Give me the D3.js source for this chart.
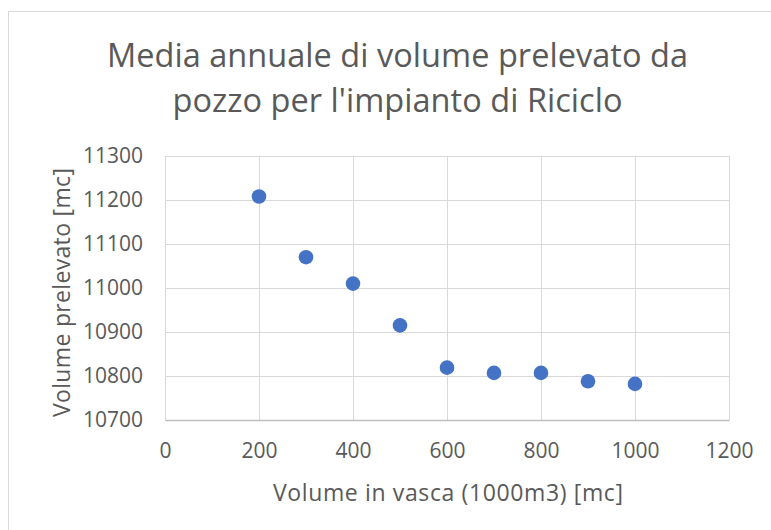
<!DOCTYPE html>
<html>
<head>
<meta charset="utf-8">
<script src="https://cdn.jsdelivr.net/npm/d3@7"></script>
<style>
  html, body { margin: 0; padding: 0; background: #ffffff; }
  svg text { font-family: "Open Sans", Lato, sans-serif; fill: #595959; }
</style>
</head>
<body>
<svg id="chart" width="771" height="530"></svg>
<script>
// Volume in vasca (1000 m3) and annual mean volume drawn from the well
const vascaVolumes = [200, 300, 400, 500, 600, 700, 800, 900, 1000];
const prelevatoVolumes = [11208, 11070, 11010, 10915, 10819, 10807, 10807, 10788, 10782];
const xTicks = [0, 200, 400, 600, 800, 1000, 1200];
const yTicks = [10700, 10800, 10900, 11000, 11100, 11200, 11300];
const titleLines = ["Media annuale di volume prelevato da", "pozzo per l'impianto di Riciclo"];
const xTitle = "Volume in vasca (1000m3) [mc]";
const yTitle = "Volume prelevato [mc]";

const svg = d3.select("#chart");
const plot = { left: 165, right: 729, top: 156, bottom: 420 };
const fontFamily = "'Open Sans', Lato, sans-serif";

const x = d3.scaleLinear().domain([0, 1200]).range([plot.left, plot.right]);
const y = d3.scaleLinear().domain([10700, 11300]).range([plot.bottom, plot.top]);

// chart area border
svg.append("rect")
  .attr("x", 8.5).attr("y", 11.5)
  .attr("width", 780).attr("height", 540)
  .attr("fill", "none").attr("stroke", "#d9d9d9").attr("stroke-width", 1);

// title, two centred lines
const titleWidths = [581, 450];
svg.append("g").selectAll("text")
  .data(titleLines)
  .join("text")
  .attr("x", 397.5)
  .attr("y", (d, i) => 67 + i * 45)
  .attr("text-anchor", "middle")
  .attr("font-size", 32.5)
  .attr("textLength", (d, i) => titleWidths[i])
  .attr("lengthAdjust", "spacing")
  .text(d => d);

// vertical gridlines
svg.append("g")
  .attr("transform", `translate(0,${plot.bottom})`)
  .call(d3.axisBottom(x).tickValues(xTicks).tickSize(-(plot.bottom - plot.top)).tickFormat(""))
  .call(g => g.select(".domain").remove())
  .call(g => g.selectAll(".tick line").attr("stroke", "#d9d9d9").attr("stroke-width", 1));

// horizontal gridlines
svg.append("g")
  .attr("transform", `translate(${plot.left},0)`)
  .call(d3.axisLeft(y).tickValues(yTicks).tickSize(-(plot.right - plot.left)).tickFormat(""))
  .call(g => g.select(".domain").remove())
  .call(g => g.selectAll(".tick line").attr("stroke", "#d9d9d9").attr("stroke-width", 1));

// bottom axis line and labels
const xAxis = svg.append("g")
  .attr("transform", `translate(0,${plot.bottom})`)
  .call(d3.axisBottom(x).tickValues(xTicks).tickSize(0).tickPadding(23).tickFormat(d3.format("d")));
xAxis.select(".domain").attr("stroke", "#bfbfbf").attr("stroke-width", 1.3);
xAxis.selectAll(".tick text").attr("font-size", 21).attr("fill", "#595959")
  .attr("font-family", fontFamily);

// left axis labels
const yAxis = svg.append("g")
  .attr("transform", `translate(${plot.left},0)`)
  .call(d3.axisLeft(y).tickValues(yTicks).tickSize(0).tickPadding(22).tickFormat(d3.format("d")));
yAxis.select(".domain").remove();
yAxis.selectAll(".tick text").attr("font-size", 21).attr("fill", "#595959")
  .attr("font-family", fontFamily);

// axis titles
svg.append("text")
  .attr("x", 448)
  .attr("y", 501)
  .attr("text-anchor", "middle")
  .attr("font-size", 23)
  .attr("textLength", 350)
  .attr("lengthAdjust", "spacing")
  .text(xTitle);

svg.append("text")
  .attr("transform", `translate(70,292.5) rotate(-90)`)
  .attr("text-anchor", "middle")
  .attr("font-size", 23)
  .attr("textLength", 249)
  .attr("lengthAdjust", "spacing")
  .text(yTitle);

// data points
svg.append("g").selectAll("circle")
  .data(vascaVolumes.map((v, i) => ({ v, p: prelevatoVolumes[i] })))
  .join("circle")
  .attr("cx", d => x(d.v))
  .attr("cy", d => y(d.p))
  .attr("r", 7.3)
  .attr("fill", "#4472c4");
</script>
</body>
</html>
